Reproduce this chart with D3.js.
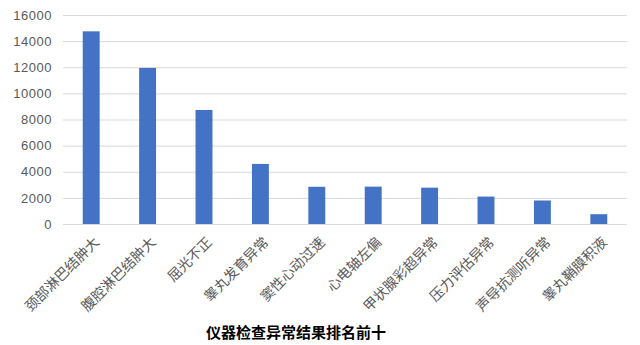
<!DOCTYPE html>
<html><head><meta charset="utf-8">
<script src="https://cdn.jsdelivr.net/npm/d3@7"></script>
<style>body{margin:0;background:#fff;}svg{display:block;}</style>
</head><body><svg id="c" width="640" height="345"></svg>
<script>
const categories = ["颈部淋巴结肿大","腹腔淋巴结肿大","屈光不正","睾丸发育异常","窦性心动过速","心电轴左偏","甲状腺彩超异常","压力评估异常","声导抗测听异常","睾丸鞘膜积液"];
const values = [14750,11950,8730,4600,2850,2860,2780,2100,1800,750];
const yTicks = [0,2000,4000,6000,8000,10000,12000,14000,16000];
const title = "仪器检查异常结果排名前十";

const svg = d3.select("#c");
const m = {l:63, r:13, t:15, b:121};
const W = 640, H = 345;
const x = d3.scaleBand().domain(categories).range([m.l, W-m.r]).paddingInner(0.7).paddingOuter(0.35);
const y = d3.scaleLinear().domain([0,16000]).range([H-m.b, m.t]);

const fontF = "'Noto Sans CJK SC', 'Liberation Sans', sans-serif";
// grid
const yAxis = d3.axisLeft(y).tickValues(yTicks).tickSize(-(W-m.r-m.l)).tickPadding(11).tickFormat(d3.format("d"));
const ga = svg.append("g").attr("transform",`translate(${m.l},0)`).call(yAxis);
ga.select(".domain").remove();
ga.selectAll(".tick line").attr("stroke","#d9d9d9").attr("stroke-width",1);
ga.selectAll(".tick text").attr("fill","#595959").style("font-family","'Liberation Sans', Arial, sans-serif").style("font-size","13px").style("letter-spacing","0.5px");

// bars
svg.append("g").selectAll("rect").data(values).join("rect")
  .attr("x",(d,i)=>x(categories[i]))
  .attr("y",d=>y(d))
  .attr("width",x.bandwidth())
  .attr("height",d=>y(0)-y(d))
  .attr("fill","#4472c4");

// baseline
svg.append("line").attr("x1",m.l).attr("x2",W-m.r).attr("y1",y(0)+0.5).attr("y2",y(0)+0.5).attr("stroke","#d9d9d9");

// x labels
const xAxis = d3.axisBottom(x).tickSize(0).tickPadding(0);
const gx = svg.append("g").attr("transform",`translate(0,${y(0)})`).call(xAxis);
gx.select(".domain").remove();
gx.selectAll(".tick text")
  .attr("fill","#595959")
  .style("font-family",fontF).style("font-size","14px")
  .attr("text-anchor","end")
  .attr("dy",0).attr("y",0)
  .attr("transform","translate(9,19) rotate(-45)");

svg.append("text").attr("x",296).attr("y",338).attr("text-anchor","middle")
  .style("font-family",fontF).style("font-size","15px").style("font-weight","bold")
  .attr("fill","#000").text(title);
</script></body></html>
